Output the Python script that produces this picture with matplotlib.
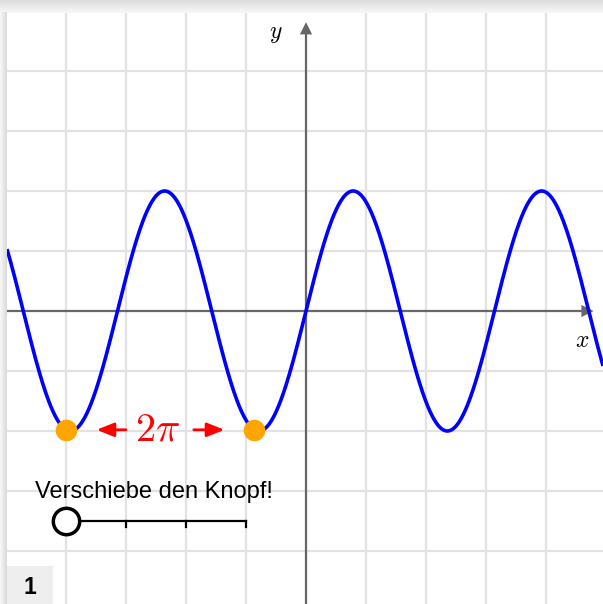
import numpy as np
import matplotlib.pyplot as plt

plt.rcParams['mathtext.fontset'] = 'cm'

# grid positions (one grid step = one unit)
grid_x = [-4, -3, -2, -1, 1, 2, 3, 4]
grid_y = [-4, -3, -2, -1, 1, 2, 3, 4]

# curve y = amp * sin(freq * x)
amp = 2.0
freq = 2.0

# the two orange points (distance of one period)
dot_x = [-4.0, -4.0 + np.pi]

# slider
slider_start = -4.0
slider_end = -1.0
slider_ticks = [-3, -2, -1]
slider_y = -3.5

x_left, x_right = -306 / 60, 297 / 60
y_bottom, y_top = -293 / 60, 311 / 60
panel_left = -299 / 60
panel_top = 298 / 60

fig = plt.figure(figsize=(6.03, 6.04), dpi=100)
ax = fig.add_axes([0, 0, 1, 1])
ax.set_xlim(x_left, x_right)
ax.set_ylim(y_bottom, y_top)
ax.axis('off')

# grid
for gx in grid_x:
    ax.plot([gx, gx], [y_bottom, panel_top], color='#e2e2e2', lw=1.6, zorder=1)
for gy in grid_y:
    ax.plot([panel_left, x_right], [gy, gy], color='#e2e2e2', lw=1.6, zorder=1)

# axes with arrows
ax.plot([0, 0], [y_bottom, 4.6], color='#666666', lw=1.6, zorder=2)
ax.annotate('', xy=(0, 4.86), xytext=(0, 4.55),
            arrowprops=dict(arrowstyle='-|>', color='#666666', lw=0,
                            mutation_scale=22), zorder=2)
ax.plot([panel_left, 4.6], [0, 0], color='#666666', lw=1.6, zorder=2)
ax.annotate('', xy=(4.84, 0), xytext=(4.55, 0),
            arrowprops=dict(arrowstyle='-|>', color='#666666', lw=0,
                            mutation_scale=22), zorder=2)
ax.text(-0.5, 4.63, r'$y$', fontsize=17, ha='center', va='center')
ax.text(4.6, -0.48, r'$x$', fontsize=17, ha='center', va='center')

# curve
xs = np.linspace(panel_left, x_right, 800)
ax.plot(xs, amp * np.sin(freq * xs), color='#0000ff', lw=2.6, zorder=3,
        solid_capstyle='butt')

# orange points
ax.plot(dot_x, amp * np.sin(freq * np.array(dot_x)), 'o', color='#ffa500',
        markersize=14.5, zorder=4)

# 2pi label with arrows
mid = (dot_x[0] + dot_x[1]) / 2
ax.text(mid - 0.04, -1.97, r'$2\pi$', color='#ff0000', fontsize=29,
        ha='center', va='center', zorder=5)
arrow_style = '-|>,head_length=0.75,head_width=0.3'
ax.annotate('', xy=(-3.49, -1.98), xytext=(-3.0, -1.98),
            arrowprops=dict(arrowstyle=arrow_style, color='#ff0000', lw=2.0,
                            mutation_scale=14, shrinkA=0, shrinkB=0), zorder=5)
ax.annotate('', xy=(-1.36, -1.98), xytext=(-1.87, -1.98),
            arrowprops=dict(arrowstyle=arrow_style, color='#ff0000', lw=2.0,
                            mutation_scale=14, shrinkA=0, shrinkB=0), zorder=5)

# slider
ax.text(-2.53, -3.02, 'Verschiebe den Knopf!', fontsize=17,
        family='Liberation Sans', ha='center', va='center', zorder=5)
ax.plot([slider_start, slider_end], [slider_y, slider_y], color='black',
        lw=1.6, zorder=5)
for t in slider_ticks:
    ax.plot([t, t], [slider_y, slider_y - 0.1], color='black', lw=1.6, zorder=5)
ax.plot([slider_start], [slider_y], 'o', markersize=19, markerfacecolor='white',
        markeredgecolor='black', markeredgewidth=2.5, zorder=6)

# page number box
ax.add_patch(plt.Rectangle((panel_left, y_bottom), 46 / 60, 38 / 60,
                           facecolor='#eeeeee', edgecolor='none', zorder=6))
ax.text(-4.6, -4.61, '1', fontsize=16.5, fontweight='bold',
        family='Liberation Sans', ha='center', va='center', zorder=7)

# shadow around panel (top and left)
top_grad = np.linspace(0.97, 0.86, 20).reshape(-1, 1)
ax.imshow(np.repeat(top_grad, 2, axis=1), cmap='gray', vmin=0, vmax=1,
          extent=(x_left, x_right, panel_top, y_top), origin='lower',
          aspect='auto', zorder=8, interpolation='bilinear')
left_grad = np.linspace(0.97, 0.85, 20).reshape(1, -1)
ax.imshow(np.repeat(left_grad, 2, axis=0), cmap='gray', vmin=0, vmax=1,
          extent=(x_left, panel_left, y_bottom, panel_top),
          aspect='auto', zorder=8, interpolation='bilinear')
ax.set_xlim(x_left, x_right)
ax.set_ylim(y_bottom, y_top)

fig.savefig('out.png', dpi=100)
